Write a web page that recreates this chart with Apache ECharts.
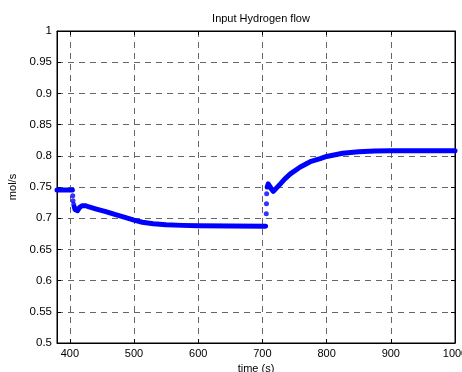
<!DOCTYPE html>
<html>
<head>
<meta charset="utf-8">
<script src="https://cdn.jsdelivr.net/npm/echarts@6/dist/echarts.min.js"></script>
<style>
html,body{margin:0;padding:0;background:#fff;}
#chart{width:462px;height:372px;}
</style>
</head>
<body>
<div id="chart"></div>
<script>
// Data
var titleText = 'Input Hydrogen flow';
var xName = 'time (s)';
var yName = 'mol/s';
var xTicks = [400, 500, 600, 700, 800, 900, 1000];
var yTicks = [0.5, 0.55, 0.6, 0.65, 0.7, 0.75, 0.8, 0.85, 0.9, 0.95, 1];

// continuous band, part 1 (before first step)
var flatTimes = [380, 390, 400, 404];
var flatValues = [0.745, 0.745, 0.745, 0.745];
// isolated transition dots after first step
var step1DotTimes = [404.5, 405, 406];
var step1DotValues = [0.736, 0.728, 0.722];
// continuous decay
var decayTimes = [407, 408, 410, 412, 415, 419, 425, 430, 440, 456, 470, 482, 500, 513, 530, 550, 575, 600, 650, 705];
var decayValues = [0.718, 0.714, 0.711, 0.712, 0.717, 0.720, 0.720, 0.718, 0.715, 0.7105, 0.706, 0.7025, 0.697, 0.6935, 0.691, 0.6895, 0.6885, 0.688, 0.6875, 0.687];
// isolated transition dots after second step
var step2DotTimes = [706, 706.3, 706.6];
var step2DotValues = [0.707, 0.723, 0.739];
// continuous rise
var riseTimes = [707.5, 709, 711, 714, 717, 720, 728, 735, 743.5, 759, 774.5, 790, 800, 825, 850, 875, 900, 950, 1000];
var riseValues = [0.750, 0.755, 0.754, 0.747, 0.743, 0.745, 0.755, 0.763, 0.771, 0.782, 0.7905, 0.7955, 0.799, 0.804, 0.8065, 0.8075, 0.808, 0.808, 0.808];

function zip(a, b) { return a.map(function (v, i) { return [v, b[i]]; }); }

var font = "'Liberation Sans', Arial, sans-serif";
var blue = '#0000ff';
var gridColor = '#666';

var lineData = zip(flatTimes, flatValues).concat([[null, null]])
  .concat(zip(decayTimes, decayValues)).concat([[null, null]])
  .concat(zip(riseTimes, riseValues));
var dotData = zip(step1DotTimes, step1DotValues).concat(zip(step2DotTimes, step2DotValues));

var chart = echarts.init(document.getElementById('chart'), null, {renderer: 'canvas'});
chart.setOption({
  animation: false,
  backgroundColor: '#fff',
  title: {
    text: titleText,
    left: 256, top: 8, textAlign: 'center',
    textStyle: {fontFamily: font, fontSize: 11, fontWeight: 'normal', color: '#000'}
  },
  grid: {left: 57, right: 7, top: 31, bottom: 29, show: true, borderColor: '#000', borderWidth: 1,
    containLabel: false, outerBoundsMode: 'none'},
  xAxis: [{
    type: 'value', min: 380, max: 1000,
    name: xName, nameLocation: 'middle', nameGap: 19,
    nameTextStyle: {fontFamily: font, fontSize: 11, color: '#000'},
    axisLine: {show: true, lineStyle: {color: '#000', width: 1}},
    axisTick: {show: true, inside: true, length: 4, customValues: xTicks, lineStyle: {color: '#000'}},
    axisLabel: {show: true, margin: 5, customValues: xTicks, fontFamily: font, fontSize: 11, color: '#000',
      hideOverlap: false, formatter: function (v) { return String(v); }},
    splitLine: {show: true, lineStyle: {color: gridColor, width: 1, type: [6, 5]}}
  }, {
    type: 'value', min: 380, max: 1000, position: 'top',
    axisLine: {show: true, lineStyle: {color: '#000'}},
    axisTick: {show: true, inside: true, length: 4, customValues: xTicks, lineStyle: {color: '#000'}},
    axisLabel: {show: false},
    splitLine: {show: false}
  }],
  yAxis: [{
    type: 'value', min: 0.5, max: 1, interval: 0.05,
    name: yName, nameLocation: 'middle', nameGap: 33, nameRotate: 90,
    nameTextStyle: {fontFamily: font, fontSize: 11, color: '#000'},
    axisLine: {show: true, lineStyle: {color: '#000', width: 1}},
    axisTick: {show: true, inside: true, length: 4, lineStyle: {color: '#000'}},
    axisLabel: {show: true, margin: 5, fontFamily: font, fontSize: 11.5, color: '#000',
      customValues: yTicks,
      formatter: function (v) { return String(Math.round(v * 100) / 100); }},
    splitLine: {show: true, lineStyle: {color: gridColor, width: 1, type: [6, 5]}}
  }, {
    type: 'value', min: 0.5, max: 1, interval: 0.05, position: 'right',
    axisLine: {show: true, lineStyle: {color: '#000'}},
    axisTick: {show: true, inside: true, length: 4, lineStyle: {color: '#000'}},
    axisLabel: {show: false},
    splitLine: {show: false}
  }],
  series: [{
    type: 'line', xAxisIndex: 0, yAxisIndex: 0,
    data: lineData, connectNulls: false,
    showSymbol: false, symbol: 'none',
    lineStyle: {color: blue, width: 5, cap: 'round', join: 'round'},
    z: 5
  }, {
    type: 'scatter', xAxisIndex: 0, yAxisIndex: 0,
    data: dotData, symbol: 'circle', symbolSize: 5,
    itemStyle: {color: blue},
    z: 5
  }]
});
</script>
</body>
</html>
